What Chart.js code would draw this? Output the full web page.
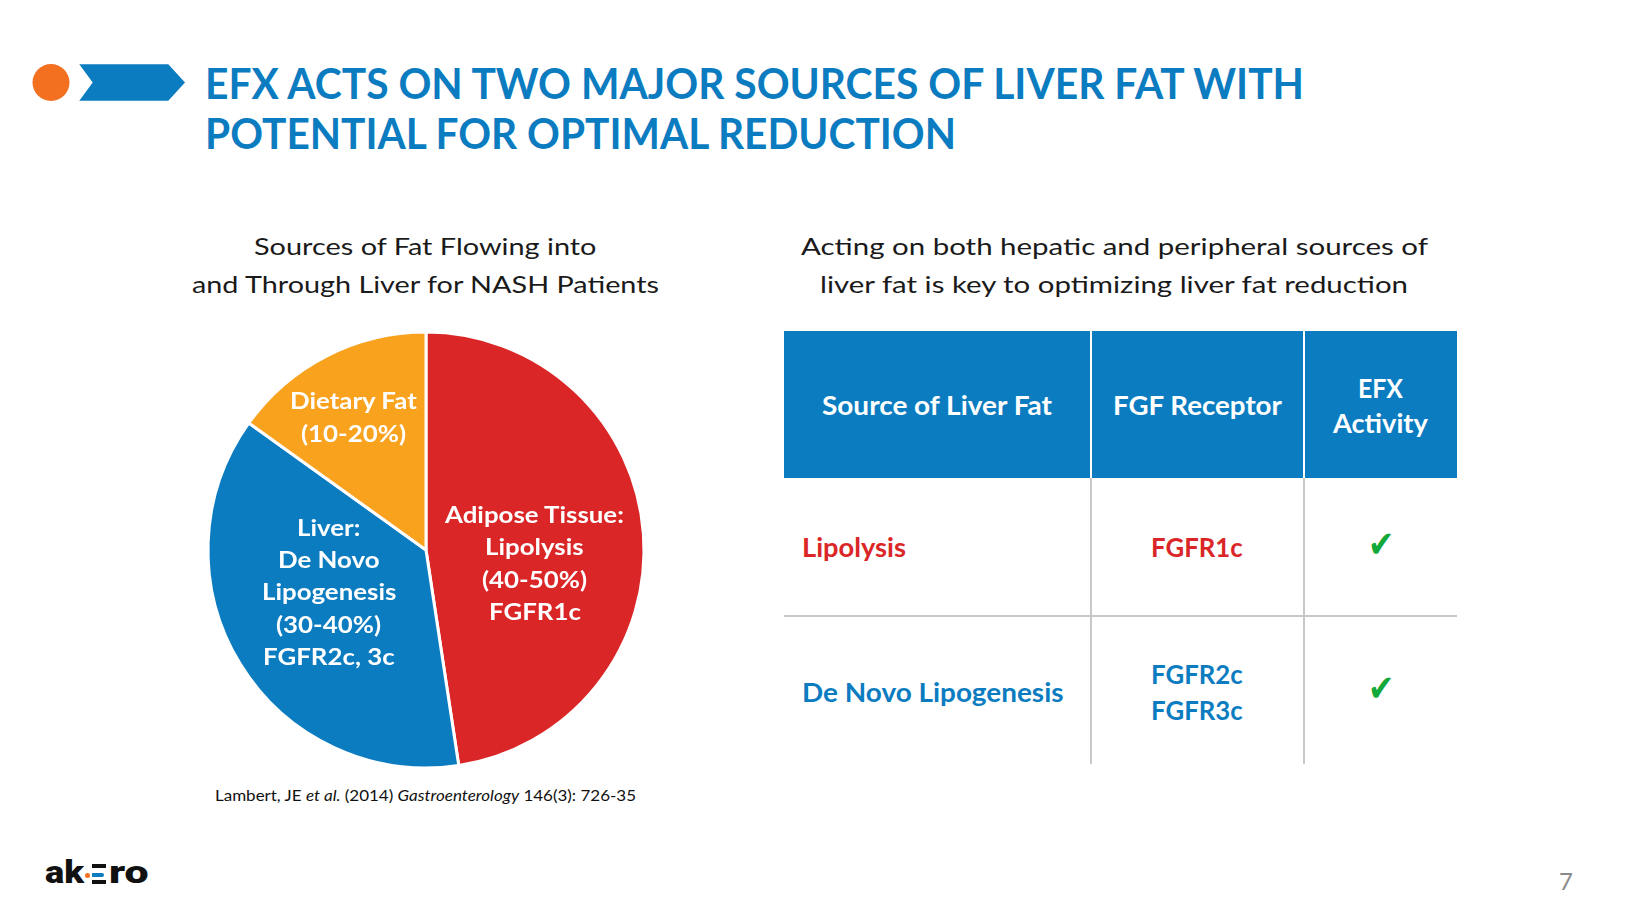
<!DOCTYPE html>
<html>
<head>
<meta charset="utf-8">
<script src="https://cdn.jsdelivr.net/npm/chart.js@4.4.1/dist/chart.umd.min.js"></script>
<style>
  html, body { margin: 0; padding: 0; background: #fff; }
  #slide { position: relative; width: 1634px; height: 919px; overflow: hidden; font-family: Lato, "Open Sans", sans-serif; }
  .t { position: absolute; white-space: nowrap; line-height: 1; transform-origin: 0 0; }
  .box { position: absolute; }
  #pie { position: absolute; left: 196px; top: 320px; }
</style>
</head>
<body>
<div id="slide">
  <svg width="1634" height="919" style="position:absolute;left:0;top:0">
    <circle cx="51" cy="82.5" r="18.5" fill="#F37021"></circle>
    <polygon points="79.3,64.3 168.3,64.3 185,82.5 168.3,100.7 79.3,100.7 92.7,82.5" fill="#0C7CC1"></polygon>
  </svg>

  <!-- table frame -->
  <div class="box" style="left:783.5px;top:330.7px;width:673px;height:147.6px;background:#0C7CC1"></div>
  <div class="box" style="left:1089.5px;top:330.7px;width:2px;height:147.6px;background:#fff"></div>
  <div class="box" style="left:1303.3px;top:330.7px;width:2px;height:147.6px;background:#fff"></div>
  <div class="box" style="left:1089.5px;top:478.3px;width:2px;height:285.7px;background:#c8c8c8"></div>
  <div class="box" style="left:1303.3px;top:478.3px;width:2px;height:285.7px;background:#c8c8c8"></div>
  <div class="box" style="left:783.5px;top:614.8px;width:673px;height:2.5px;background:#c8c8c8"></div>

  <canvas id="pie" width="460" height="460"></canvas>

  <!-- logo -->
  <div class="box" style="left:85px;top:873.3px;width:5px;height:5px;border-radius:50%;background:#F37021"></div>
  <div class="box" style="left:91.5px;top:864.3px;width:14px;height:4px;background:#111"></div>
  <div class="box" style="left:91.5px;top:873.3px;width:12.5px;height:4px;background:#0C7CC1;border-radius:0 2px 2px 0"></div>
  <div class="box" style="left:91.5px;top:880px;width:14px;height:4px;background:#111"></div>
</div>

<script>
  // pie data
  const sources = ["Adipose Tissue", "Liver", "Dietary Fat"];
  const shares = [47.6, 37.3, 15.1];
  const sliceColors = ["#DA2627", "#0C7CC1", "#F8A21E"];
  const sliceLabels = [
    ["Adipose Tissue:", "Lipolysis", "(40-50%)", "FGFR1c"],
    ["Liver:", "De Novo", "Lipogenesis", "(30-40%)", "FGFR2c, 3c"],
    ["Dietary Fat", "(10-20%)"],
  ];
  // where each slice label sits: fraction of radius, turn from mid angle (deg)
  const labelRadius = [0.503, 0.487, 0.691];
  const labelTurn = [11.7, 7.7, -1.7];

  // table data
  const tableHead = ["Source of Liver Fat", "FGF Receptor", ["EFX", "Activity"]];
  const tableSources = ["Lipolysis", "De Novo Lipogenesis"];
  const tableReceptors = [["FGFR1c"], ["FGFR2c", "FGFR3c"]];
  const tableActive = [true, true];

  const BLUE = "#0C7CC1";
  const RED = "#DA2627";
  const slide = document.getElementById("slide");

  const ascent = { lato: 0.887, roboto: 0.842, dejavu: 0.846 };
  const families = {
    lato: 'Lato, "Open Sans", sans-serif',
    roboto: 'Roboto, sans-serif',
    dejavu: '"DejaVu Sans", sans-serif',
  };

  // text placed by baseline; optional width fit or fixed squeeze
  function addText(html, o) {
    const fam = o.fam || "lato";
    const el = document.createElement("div");
    el.className = "t";
    el.innerHTML = html;
    el.style.fontFamily = families[fam];
    el.style.fontSize = o.size + "px";
    el.style.fontWeight = o.weight || (o.bold ? "700" : "400");
    el.style.color = o.color || "#1a1a1a";
    slide.appendChild(el);
    const nat = el.getBoundingClientRect().width;
    const sx = o.w ? o.w / nat : o.sx || 1;
    const left = o.align === "center" ? o.x - (nat * sx) / 2 : o.x;
    el.style.left = left + "px";
    el.style.top = o.base - ascent[fam] * o.size + "px";
    el.style.transform = "scaleX(" + sx + ")";
    return el;
  }

  // title
  addText("EFX ACTS ON TWO MAJOR SOURCES OF LIVER FAT WITH", { x: 205.3, base: 100, size: 42.6, bold: true, color: BLUE, w: 1099 });
  addText("POTENTIAL FOR OPTIMAL REDUCTION", { x: 205.3, base: 149.3, size: 42.6, bold: true, color: BLUE, w: 751 });

  // subtitles
  addText("Sources of Fat Flowing into", { x: 425.5, base: 255.5, size: 23, align: "center", w: 342.5 });
  addText("and Through Liver for NASH Patients", { x: 425.1, base: 293, size: 23, align: "center", w: 467 });
  addText("Acting on both hepatic and peripheral sources of", { x: 1114, base: 255.5, size: 23, align: "center", w: 627 });
  addText("liver fat is key to optimizing liver fat reduction", { x: 1114, base: 293, size: 23, align: "center", w: 588 });

  // table header
  addText(tableHead[0], { x: 936.7, base: 415, size: 27, bold: true, color: "#fff", align: "center", w: 230 });
  addText(tableHead[1], { x: 1197.4, base: 415, size: 27, bold: true, color: "#fff", align: "center", w: 168.8 });
  addText(tableHead[2][0], { x: 1380, base: 397.5, size: 27, bold: true, color: "#fff", align: "center", w: 45 });
  addText(tableHead[2][1], { x: 1380, base: 433, size: 27, bold: true, color: "#fff", align: "center", w: 94.8 });

  // table body
  const rowColors = [RED, BLUE];
  const rowBase = [557.3, 701.8];
  const srcWidths = [104, 261.5];
  const checkBase = [557, 701];
  tableSources.forEach((s, i) => {
    addText(s, { x: 801.7, base: rowBase[i], size: 27, bold: true, color: rowColors[i], w: srcWidths[i] });
    const rec = tableReceptors[i];
    rec.forEach((r, j) => {
      const b = rowBase[i] + (j - (rec.length - 1) / 2) * 36.5;
      addText(r, { x: 1197.3, base: b, size: 27, bold: true, color: rowColors[i], align: "center", w: 91.7 });
    });
    if (tableActive[i]) {
      addText("\u2714", { x: 1381, base: checkBase[i], size: 37, fam: "dejavu", color: "#12A83A", align: "center", sx: 0.85 });
    }
  });

  // footnote, page number, logo text
  addText('Lambert, JE <i>et al.</i> (2014) <i>Gastroenterology</i> 146(3): 726-35', { x: 214.7, base: 802, size: 15.6, color: "#111", w: 421 });
  addText("7", { x: 1566, base: 890, size: 24, color: "#8a8a8a", align: "center" });
  addText("ak", { x: 44.5, base: 883.5, size: 31, fam: "roboto", weight: "900", color: "#111", w: 39 });
  addText("ro", { x: 109, base: 883.5, size: 31, fam: "roboto", weight: "900", color: "#111", w: 39.5 });

  // pie
  const canvas = document.getElementById("pie");
  const chart = new Chart(canvas.getContext("2d"), {
    type: "pie",
    data: {
      labels: sources,
      datasets: [
        {
          data: shares,
          backgroundColor: sliceColors,
          borderColor: "#ffffff",
          borderWidth: 3,
          radius: 218,
        },
      ],
    },
    options: {
      responsive: false,
      animation: false,
      events: [],
      layout: { padding: 0 },
      plugins: {
        legend: { display: false },
        tooltip: { enabled: false },
      },
    },
  });

  // slice labels as text over the canvas, placed from each arc's geometry
  const ox = canvas.offsetLeft;
  const oy = canvas.offsetTop;
  chart.getDatasetMeta(0).data.forEach((arc, i) => {
    const p = arc.getProps(["x", "y", "startAngle", "endAngle", "outerRadius"]);
    const a = (p.startAngle + p.endAngle) / 2 + (labelTurn[i] * Math.PI) / 180;
    const cx = ox + p.x + Math.cos(a) * p.outerRadius * labelRadius[i];
    const cy = oy + p.y + Math.sin(a) * p.outerRadius * labelRadius[i];
    const lines = sliceLabels[i];
    lines.forEach((line, j) => {
      const capMid = cy + (j - (lines.length - 1) / 2) * 32.3;
      addText(line, { x: cx, base: capMid + 8.3, size: 23.5, bold: true, color: "#fff", align: "center", sx: 1.1 });
    });
  });
</script>
</body>
</html>
